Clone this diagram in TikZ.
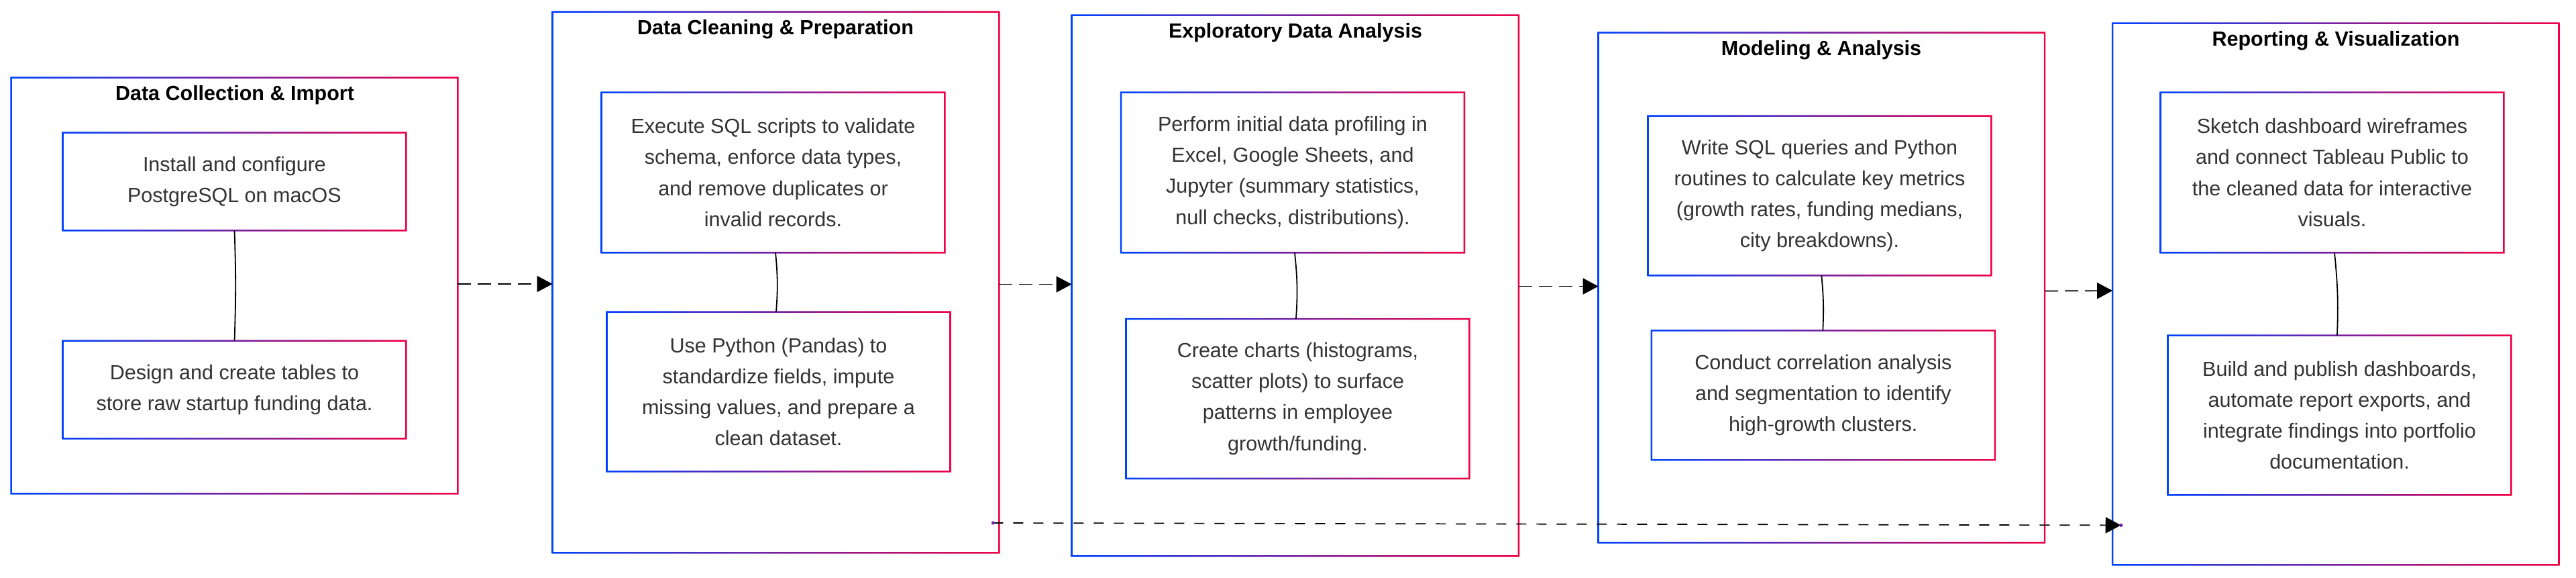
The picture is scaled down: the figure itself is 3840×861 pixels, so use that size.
\documentclass[tikz,border=0pt]{standalone}
\usepackage{fontspec}
\setmainfont{Liberation Sans}
\usetikzlibrary{arrows.meta,shadows,calc}
\definecolor{gblue}{RGB}{0,66,255}
\definecolor{gred}{RGB}{240,0,70}
\definecolor{gpurple}{RGB}{120,30,160}
\definecolor{txt}{RGB}{51,51,51}
\newcommand\gframe[1]{%
  \shade[left color=gblue,right color=gred,even odd rule]
    ([shift={(-0.6pt,-0.6pt)}]#1.south west) rectangle ([shift={(0.6pt,0.6pt)}]#1.north east)
    ([shift={(0.6pt,0.6pt)}]#1.south west) rectangle ([shift={(-0.6pt,-0.6pt)}]#1.north east);}
\tikzset{
  outerbox/.style={fill=white,inner sep=0pt,
    drop shadow={opacity=0.10,shadow xshift=1.2pt,shadow yshift=-1.2pt}},
  innerbox/.style={fill=white,inner sep=0pt,align=center,text=txt,
    font=\fontsize{15.25}{23.1}\selectfont,minimum width=255.5pt,
    drop shadow={opacity=0.12,shadow xshift=1.2pt,shadow yshift=-1.2pt}},
  ttl/.style={anchor=base,inner sep=0pt,font=\fontsize{15.25}{18}\selectfont\bfseries,text=black},
  link/.style={draw=black,line width=0.9pt},
  flow/.style={draw=black,line width=0.85pt,dash pattern=on 10pt off 5pt,
    -{Triangle[length=11.5pt,width=12pt]}},
  backflow/.style={draw=black,line width=0.85pt,dash pattern=on 7.5pt off 7.5pt,
    -{Triangle[length=11.5pt,width=12pt]}},
}
\begin{document}
\begin{tikzpicture}[x=0.5pt,y=-0.5pt]
\useasboundingbox (0,0) rectangle (3840,861);
\fill[white] (0,0) rectangle (3840,861);

% outer boxes
\node[outerbox,minimum width=332.5pt,minimum height=309.5pt] (o1) at (349.5,425.5) {};
\node[outerbox,minimum width=332.5pt,minimum height=402.5pt] (o2) at (1156.5,420.5) {};
\node[outerbox,minimum width=332.75pt,minimum height=402.5pt] (o3) at (1930.75,425.5) {};
\node[outerbox,minimum width=332.3pt,minimum height=379.5pt] (o4) at (2715.3,428.5) {};
\node[outerbox,minimum width=332.25pt,minimum height=403pt] (o5) at (3481.75,438) {};
\foreach \n in {o1,o2,o3,o4,o5}{\gframe{\n}}

% titles
\node[ttl] (t1) at (350,150) {Data Collection \& Import};
\node[ttl] (t2) at (1156,52) {Data Cleaning \& Preparation};
\node[ttl] (t3) at (1931,56.5) {Exploratory Data Analysis};
\node[ttl] (t4) at (2715,82.7) {Modeling \& Analysis};
\node[ttl] (t5) at (3482,69) {Reporting \& Visualization};

% inner boxes
\node[innerbox,minimum height=72.5pt] (a1) at (349.5,270.5) {Install and configure\\PostgreSQL on macOS};
\node[innerbox,minimum height=72.5pt] (a2) at (349.5,580.5) {Design and create tables to\\store raw startup funding data.};

\node[innerbox,minimum height=119pt] (b1) at (1152.5,257) {Execute SQL scripts to validate\\schema, enforce data types,\\and remove duplicates or\\invalid records.};
\node[innerbox,minimum height=118.5pt] (b2) at (1160.5,583.5) {Use Python (Pandas) to\\standardize fields, impute\\missing values, and prepare a\\clean dataset.};

\node[innerbox,minimum height=119pt] (c1) at (1927,257) {Perform initial data profiling in\\Excel, Google Sheets, and\\Jupyter (summary statistics,\\null checks, distributions).};
\node[innerbox,minimum height=118.5pt] (c2) at (1934.5,594) {Create charts (histograms,\\scatter plots) to surface\\patterns in employee\\growth/funding.};

\node[innerbox,minimum height=118.5pt] (d1) at (2712.5,291.5) {Write SQL queries and Python\\routines to calculate key metrics\\(growth rates, funding medians,\\city breakdowns).};
\node[innerbox,minimum height=96pt] (d2) at (2717.8,588.8) {Conduct correlation analysis\\and segmentation to identify\\high-growth clusters.};

\node[innerbox,minimum height=119pt] (e1) at (3476.5,257) {Sketch dashboard wireframes\\and connect Tableau Public to\\the cleaned data for interactive\\visuals.};
\node[innerbox,minimum height=118.5pt] (e2) at (3487.5,618.5) {Build and publish dashboards,\\automate report exports, and\\integrate findings into portfolio\\documentation.};

\foreach \n in {a1,a2,b1,b2,c1,c2,d1,d2,e1,e2}{\gframe{\n}}

% inner connectors
\draw[link] (a1.south -| o1.center) to[bend left=2] (a2.north -| o1.center);
\draw[link] ([xshift=-0.25pt]b1.south -| o2.center) to[bend left=5] ([xshift=0.25pt]b2.north -| o2.center);
\draw[link] ([xshift=-0.4pt]c1.south -| o3.center) to[bend left=5] ([xshift=0.6pt]c2.north -| o3.center);
\draw[link] (d1.south -| o4.center) to[bend left=4] ([xshift=1pt]d2.north -| o4.center);
\draw[link] ([xshift=-0.9pt]e1.south -| o5.center) to[bend left=4] ([xshift=1.1pt]e2.north -| o5.center);

% stage arrows
\draw[flow] ([yshift=1.25pt]o1.east) -- ([yshift=-1.25pt]o2.west);
\draw[flow] ([yshift=-1.5pt]o2.east) -- ([yshift=1pt]o3.west);
\draw[flow] ([yshift=-0.5pt]o3.east) -- ([yshift=1pt]o4.west);
\draw[flow] ([yshift=-2.5pt]o4.east) -- ([yshift=2.5pt]o5.west);

% long dashed arrow
\coordinate (s) at ([xshift=-4.5pt,yshift=22.2pt]o2.south east);
\coordinate (e) at ([xshift=6.3pt,yshift=29.5pt]o5.south west);
\draw[backflow] (s) -- (e);
\fill[gpurple] (s) circle (1.3pt);
\fill[gpurple] (e) circle (1.3pt);
\end{tikzpicture}
\end{document}
